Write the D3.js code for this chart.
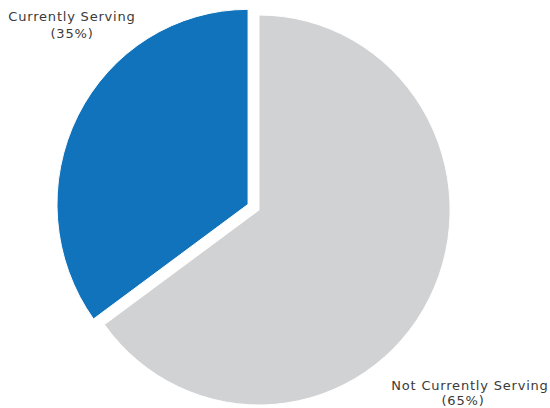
<!DOCTYPE html>
<html>
<head>
<meta charset="utf-8">
<script src="https://cdn.jsdelivr.net/npm/d3@7"></script>
<style>
  html, body { margin: 0; padding: 0; background: #fff; }
  svg { display: block; }
  text { font-family: "DejaVu Sans", Verdana, sans-serif; fill: #3a3a3a; }
</style>
</head>
<body>
<svg id="chart" width="550" height="408"></svg>
<script>
// Service status split
const categories = ["Not Currently Serving", "Currently Serving"];
const values = [65, 35];
const percentLabels = ["(65%)", "(35%)"];
const colors = ["#d1d2d4", "#1173bc"];

const width = 550, height = 408;
const cx = 259, cy = 210;
const radius = 195;
const squeeze = 0.98;           // slight horizontal compression of the disc
const pullOut = [0, 12.5];      // how far each slice is pulled from the centre

const svg = d3.select("#chart");

const pie = d3.pie().sort(null).value(d => d)(values);
const arc = d3.arc().innerRadius(0).outerRadius(radius);

const g = svg.append("g")
  .attr("transform", `translate(${cx},${cy}) scale(${squeeze},1)`);

g.selectAll("path")
  .data(pie)
  .join("path")
  .attr("d", arc)
  .attr("fill", (d, i) => colors[i])
  .attr("stroke", "#fff")
  .attr("stroke-width", 1)
  .attr("transform", (d, i) => {
    const a = (d.startAngle + d.endAngle) / 2;
    const off = pullOut[i];
    return `translate(${Math.sin(a) * off},${-Math.cos(a) * off})`;
  });

// Category labels, two lines each
const labelLayout = [
  { lines: [[470, 389.5], [463, 404.5]] },
  { lines: [[72, 21], [72, 38]] }
];

labelLayout.forEach((lay, i) => {
  const texts = [categories[i], percentLabels[i]];
  texts.forEach((t, j) => {
    svg.append("text")
      .attr("x", lay.lines[j][0])
      .attr("y", lay.lines[j][1])
      .attr("text-anchor", "middle")
      .attr("font-size", 13)
      .attr("letter-spacing", 0.8)
      .text(t);
  });
});
</script>
</body>
</html>
